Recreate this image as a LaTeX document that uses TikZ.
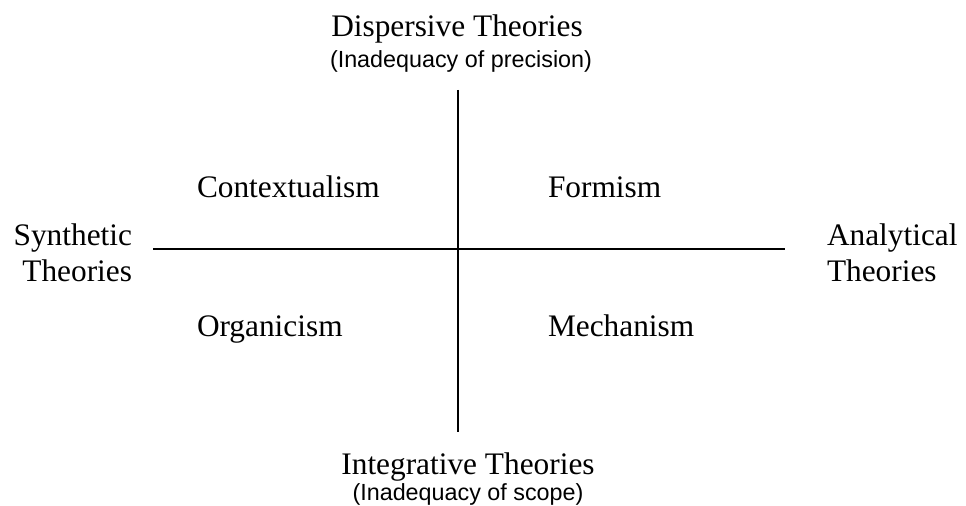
\documentclass[tikz,border=0pt]{standalone}
\usepackage{fontspec}
\setmainfont{Liberation Serif}
\newfontfamily\subfont{Liberation Sans}
\usetikzlibrary{positioning}

\begin{document}
\begin{tikzpicture}[
      x=0.75pt, y=-0.75pt,
      every node/.style={inner sep=0pt, outer sep=0pt},
      pole/.style={font=\fontsize{23.5}{27}\selectfont},
      sub/.style={font=\subfont\fontsize{17.5}{20}\selectfont},
      quadrant/.style={font=\fontsize{23.5}{27}\selectfont, anchor=base west},
      axis/.style={line width=1.5pt}
]
\useasboundingbox (0,0) rectangle (966,506);

% axis ends
\coordinate (top) at (458,90);
\coordinate (bottom) at (458,432);
\coordinate (left) at (153,249);
\coordinate (right) at (785,249);

\draw[axis] (top) -- (bottom);
\draw[axis] (left) -- (right);

% poles
\node[pole, anchor=base] (disp) at (457,37) {Dispersive Theories};
\node[sub, anchor=base] (dispsub) at (461,68) {(Inadequacy of precision)};
\node[pole, anchor=base] (integ) at (468,474) {Integrative Theories};
\node[sub, anchor=base] (integsub) at (468,500) {(Inadequacy of scope)};
\node[pole, align=right, anchor=base east] (synth) at (132,281) {Synthetic\\Theories};
\node[pole, align=left, anchor=base west] (analyt) at (827,281) {Analytical\\Theories};

% quadrants
\node[quadrant] (context) at (197,197) {Contextualism};
\node[quadrant] (form) at (548,197) {Formism};
\node[quadrant] (organ) at (197,336) {Organicism};
\node[quadrant] (mech) at (548,336) {Mechanism};
\end{tikzpicture}
\end{document}
